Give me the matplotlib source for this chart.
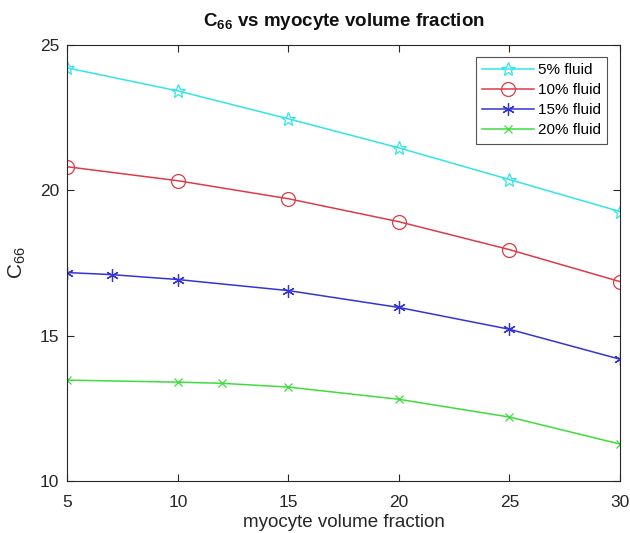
import matplotlib
matplotlib.use("Agg")
import matplotlib.pyplot as plt

plt.rcParams['font.family'] = ['Liberation Sans', 'DejaVu Sans']
plt.rcParams['mathtext.fontset'] = 'custom'
plt.rcParams['mathtext.rm'] = 'Liberation Sans'
plt.rcParams['mathtext.bf'] = 'Liberation Sans:bold'

x5 = [5, 10, 15, 20, 25, 30]
y5 = [24.21, 23.42, 22.46, 21.46, 20.37, 19.27]
x10 = [5, 10, 15, 20, 25, 30]
y10 = [20.81, 20.33, 19.71, 18.92, 17.96, 16.86]
x15 = [5, 7, 10, 15, 20, 25, 30]
y15 = [17.17, 17.10, 16.93, 16.55, 15.97, 15.22, 14.19]
x20 = [5, 10, 12, 15, 20, 25, 30]
y20 = [13.47, 13.40, 13.36, 13.23, 12.81, 12.20, 11.27]
labels = ['5% fluid', '10% fluid', '15% fluid', '20% fluid']
xticks = [5, 10, 15, 20, 25, 30]
yticks = [10, 15, 20, 25]

fig = plt.figure(figsize=(6.3, 5.33), dpi=100)
ax = fig.add_axes([0.107, 0.0976, 0.877, 0.818])

ax.plot(x5, y5, color='#33e5e5', lw=1.1, marker='*', ms=10, mfc='none', mew=0.9, label=labels[0])
ax.plot(x10, y10, color='#dd3b47', lw=1.1, marker='o', ms=10, mfc='none', mew=0.9, label=labels[1])
ax.plot(x15, y15, color='#3434d4', lw=1.1, marker=(6, 2, 0), ms=9, mew=0.9, label=labels[2])
ax.plot(x20, y20, color='#3ddd3d', lw=1.1, marker='x', ms=6, mew=0.9, label=labels[3])

ax.set_xlim(5, 30)
ax.set_ylim(10, 25)
ax.set_xticks(xticks)
ax.set_yticks(yticks)
ax.tick_params(direction='in', top=True, right=True, labelsize=12.5, colors='#262626', length=5, width=0.8)
ax.tick_params(axis='x', pad=10)
ax.tick_params(axis='y', pad=6)
for s in ax.spines.values():
    s.set_color('#262626')
    s.set_linewidth(0.8)

ax.set_xlabel('myocyte volume fraction', fontsize=13.5, color='#262626', labelpad=3)
ax.set_ylabel('C$_{66}$', fontsize=15, color='#262626', labelpad=8)
ax.set_title(r'C$_{\mathbf{66}}$ vs myocyte volume fraction', fontsize=13.5, fontweight='bold', color='#111111', pad=14)

leg = ax.legend(loc='upper right', bbox_to_anchor=(0.9774, 0.9725), fontsize=11, frameon=True, fancybox=False,
                edgecolor='#262626', handlelength=3.4, borderpad=0.4, labelspacing=0.4, handletextpad=0.3,
                borderaxespad=0)
leg.get_frame().set_linewidth(0.8)

fig.savefig('out.png', dpi=100)
